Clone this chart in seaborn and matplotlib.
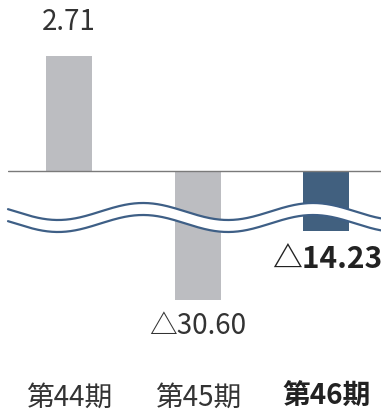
import numpy as np
import pandas as pd
import matplotlib
matplotlib.use("Agg")
import matplotlib.pyplot as plt
import matplotlib.transforms as mtransforms
import seaborn as sns

categories = ["第44期", "第45期", "第46期"]
values = [2.71, -30.60, -14.23]
value_labels = ["2.71", "△30.60", "△14.23"]
bar_colors = ["#BCBDC1", "#BCBDC1", "#41607F"]

sns.set_style("white")
plt.rcParams["font.family"] = ["Noto Sans CJK JP", "DejaVu Sans"]

W, H = 381, 415
fig = plt.figure(figsize=(W / 100, H / 100), dpi=100)

def fy(px):
    return 1 - px / H

left = 8 / W
ax_top = fig.add_axes([left, fy(215), 1 - left, 215 / H])
ax_bot = fig.add_axes([left, fy(340), 1 - left, 125 / H])

df = pd.DataFrame({"cat": categories, "val": values})
pal = dict(zip(categories, bar_colors))
for ax in (ax_top, ax_bot):
    sns.barplot(data=df, x="cat", y="val", hue="cat", palette=pal, legend=False,
                width=0.358, ax=ax, saturation=1, edgecolor="none")
    ax.set_xlim(-0.475, 2.424)
    ax.set_xlabel("")
    ax.set_ylabel("")
    ax.set_yticks([])
    for s in ax.spines.values():
        s.set_visible(False)
    ax.patch.set_alpha(0)

# top axis: 0 at y=171px, 2.71 at 56px
sc_top = 115 / 2.71
ax_top.set_ylim(-44 / sc_top, 171 / sc_top)
ax_top.axhline(0, color="#7a7a7a", lw=1.0)
ax_top.set_xticks([])

# bottom axis: -14.23 at 231px, -30.60 at 300px
sc_bot = 69 / (30.60 - 14.23)
ax_bot.set_ylim(-14.23 - 109 / sc_bot, -14.23 + 16 / sc_bot)
ax_bot.set_xticks(range(3))
ax_bot.set_xticklabels(categories, fontsize=20, color="#333333")
ax_bot.tick_params(axis="x", length=0, pad=31)
ax_bot.get_xticklabels()[2].set_fontweight("bold")
ax_bot.get_xticklabels()[2].set_color("#222222")

# value labels
trans = mtransforms.blended_transform_factory(ax_top.transData, fig.transFigure)
ax_top.text(0, fy(22), value_labels[0], transform=trans, ha="center", va="center",
            fontsize=20, color="#333333")
trans_b = mtransforms.blended_transform_factory(ax_bot.transData, fig.transFigure)
ax_bot.text(1, fy(326), value_labels[1], transform=trans_b, ha="center", va="center",
            fontsize=20, color="#333333")
ax_bot.text(2 - 0.42, fy(259), value_labels[2], transform=trans_b, ha="left", va="center",
            fontsize=21.5, fontweight="bold", color="#222222", clip_on=False)

# wavy break mark
xs = np.linspace(8, W, 400)
y_up = 211.5 - 8.5 * np.cos(2 * np.pi * (xs - 143) / 170)
y_lo = y_up + 12
ax_over = fig.add_axes([0, 0, 1, 1])
ax_over.set_xlim(0, W)
ax_over.set_ylim(H, 0)
ax_over.axis("off")
ax_over.patch.set_alpha(0)
ax_over.fill_between(xs, y_up, y_lo, color="white", lw=0)
ax_over.plot(xs, y_up, color="#3E5F86", lw=1.6)
ax_over.plot(xs, y_lo, color="#3E5F86", lw=1.6)

fig.savefig("out.png", dpi=100)
